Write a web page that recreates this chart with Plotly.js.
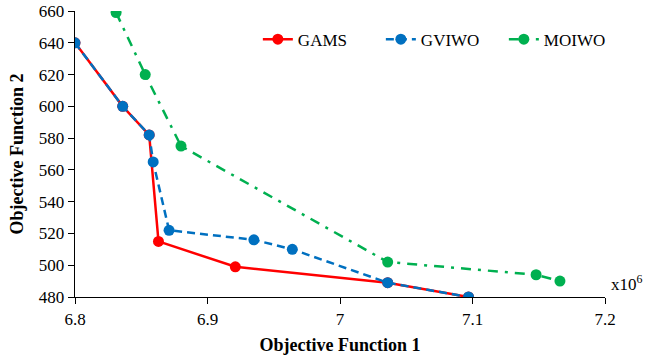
<!DOCTYPE html>
<html>
<head>
<meta charset="utf-8">
<script src="https://cdn.plot.ly/plotly-3.0.1.min.js"></script>
<style>html,body{margin:0;padding:0;background:#fff;}#chart{width:647px;height:359px;}</style>
</head>
<body>
<div id="chart"></div>
<script>
// x values in units of 10^6
const gamsX = [6.800, 6.836, 6.856, 6.863, 6.921, 7.036, 7.097];
const gamsY = [640, 600, 582, 515, 499, 489, 480];
const gviwoX = [6.800, 6.836, 6.856, 6.859, 6.871, 6.935, 6.964, 7.036, 7.097];
const gviwoY = [640, 600, 582, 565, 522, 516, 510, 489, 480];
const moiwoX = [6.831, 6.853, 6.880, 7.036, 7.148, 7.166];
const moiwoY = [659, 620, 575, 502, 494, 490];
const xTicks = [6.8, 6.9, 7.0, 7.1, 7.2];
const yTicks = [480, 500, 520, 540, 560, 580, 600, 620, 640, 660];

const font = 'Liberation Serif';
const traces = [
  {x: gamsX, y: gamsY, name: 'GAMS', mode: 'lines+markers', type: 'scatter',
   line: {color: '#FF0000', width: 2.5}, marker: {color: '#FF0000', size: 11}},
  {x: gviwoX, y: gviwoY, name: 'GVIWO', mode: 'lines+markers', type: 'scatter',
   line: {color: '#0070C0', width: 2.5, dash: '8px,5px'}, marker: {color: '#0070C0', size: 11}},
  {x: moiwoX, y: moiwoY, name: 'MOIWO', mode: 'lines+markers', type: 'scatter',
   line: {color: '#00B050', width: 2.5, dash: '10px,7px,3px,7px'}, marker: {color: '#00B050', size: 11}}
];
const layout = {
  width: 647, height: 359,
  margin: {l: 75, r: 42, t: 11, b: 62},
  paper_bgcolor: '#fff', plot_bgcolor: '#fff',
  font: {family: font, size: 17, color: '#000'},
  showlegend: true,
  legend: {orientation: 'h', x: 0.345, y: 0.90, xanchor: 'left', yanchor: 'middle',
           entrywidth: 78, entrywidthmode: 'pixels',
           font: {family: font, size: 17, color: '#000'}, bgcolor: 'rgba(0,0,0,0)'},
  xaxis: {range: [6.8, 7.2], tickvals: xTicks, ticktext: xTicks.map(v => String(+v.toFixed(1))),
          showgrid: false, zeroline: false, showline: true, linecolor: '#000', linewidth: 1.3,
          ticks: 'outside', ticklen: 6, tickcolor: '#000',
          tickfont: {family: font, size: 17, color: '#000'},
          title: {text: '<b>Objective Function 1</b>', font: {family: font, size: 18, color: '#000'}, standoff: 10}},
  yaxis: {range: [480, 660], tickvals: yTicks, showgrid: false, zeroline: false,
          showline: true, linecolor: '#000', linewidth: 1.3,
          ticks: 'outside', ticklen: 6, tickcolor: '#000',
          tickfont: {family: font, size: 17, color: '#000'},
          title: {text: '<b>Objective Function 2</b>', font: {family: font, size: 18, color: '#000'}, standoff: 10}},
  annotations: [{text: 'x10<sup>6</sup>', xref: 'paper', yref: 'paper', x: 1.008, y: 0.05,
                 xanchor: 'left', yanchor: 'middle', showarrow: false,
                 font: {family: font, size: 17, color: '#000'}}]
};
Plotly.newPlot('chart', traces, layout, {displayModeBar: false, staticPlot: true});
</script>
</body>
</html>
